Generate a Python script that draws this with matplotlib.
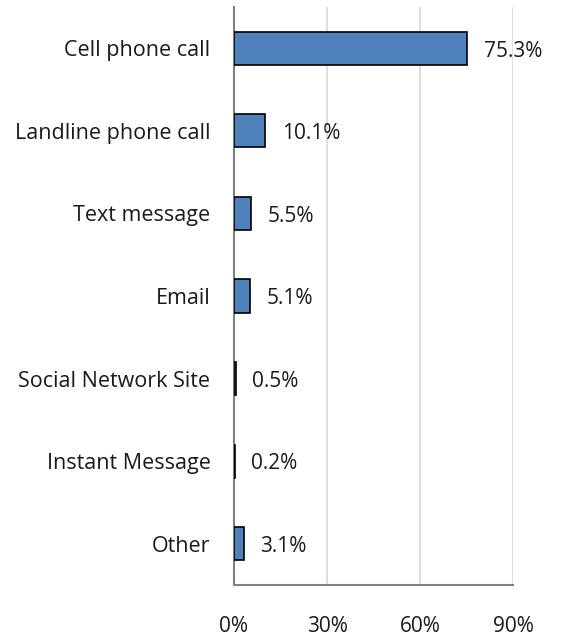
import matplotlib.pyplot as plt
from matplotlib.ticker import FuncFormatter

plt.rcParams['font.family'] = ['Open Sans', 'DejaVu Sans']

categories = ['Cell phone call', 'Landline phone call', 'Text message', 'Email',
              'Social Network Site', 'Instant Message', 'Other']
values = [75.3, 10.1, 5.5, 5.1, 0.5, 0.2, 3.1]
xticks = [0, 30, 60, 90]

fig = plt.figure(figsize=(5.61, 6.41), dpi=100)
ax = fig.add_axes([234 / 561, 1 - 585 / 641, (513 - 234) / 561, (585 - 7) / 641])

pos = list(range(len(categories)))
ax.barh(pos, values, height=0.4, color='#4F81BD', edgecolor='black', linewidth=1.2, zorder=3)

# value labels just past the end of each bar
for y, v in zip(pos, values):
    ax.annotate(f'{v:.1f}%', xy=(v, y), xytext=(12, -2), textcoords='offset points',
                va='center', ha='left', fontsize=15, color='#1a1a1a', zorder=4)

ax.set_xlim(0, 90)
ax.set_ylim(len(categories) - 0.5, -0.5)
ax.set_yticks(pos)
ax.set_yticklabels(categories, fontsize=15.5, color='#1a1a1a')
ax.set_xticks(xticks)
ax.xaxis.set_major_formatter(FuncFormatter(lambda x, _: f'{x:.0f}%'))
ax.tick_params(axis='x', length=0, pad=22, labelsize=15, labelcolor='#1a1a1a')
ax.tick_params(axis='y', length=0, pad=17)

ax.grid(True, axis='x', color='#d9d9d9', linewidth=1.2, zorder=0)
for s in ['top', 'right']:
    ax.spines[s].set_visible(False)
ax.spines['left'].set_color('#808080')
ax.spines['left'].set_linewidth(1.5)
ax.spines['bottom'].set_color('#808080')
ax.spines['bottom'].set_linewidth(1.5)

fig.savefig('out.png', dpi=100)
